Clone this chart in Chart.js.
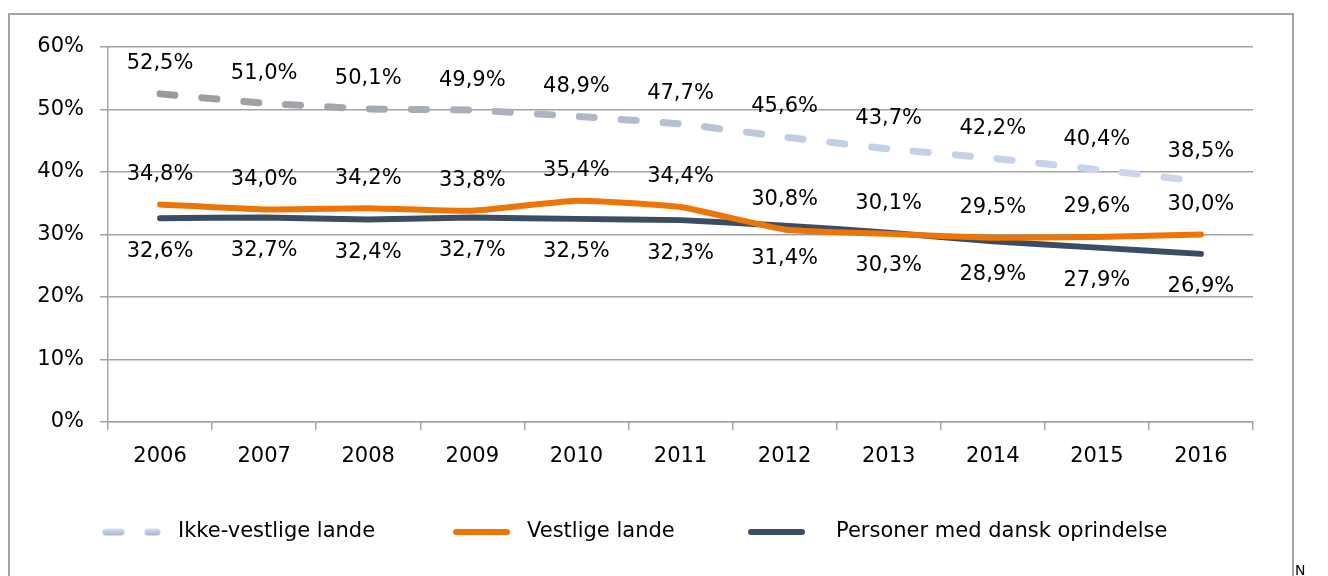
<!DOCTYPE html>
<html lang="da">
<head>
<meta charset="utf-8">
<title>Andel fordelt på herkomst 2006-2016</title>
<script src="https://cdn.jsdelivr.net/npm/chart.js@4/dist/chart.umd.min.js"></script>
<style>
    html, body { margin: 0; padding: 0; background: #fff; overflow: hidden; }
    #frame {
        position: absolute; left: 8px; top: 13px;
        width: 1282px; height: 620px;
        border: 2px solid #a3a3a3;
    }
    #wrap { position: absolute; left: 0; top: 0; width: 1328px; height: 576px; }
    #note {
        position: absolute; left: 1295px; top: 562px;
        font: 14px "DejaVu Sans", sans-serif; color: #000;
    }
</style>
</head>
<body>
<div id="frame"></div>
<div id="wrap"><canvas id="herkomstChart"></canvas></div>
<div id="note">N</div>

<script>
// data
const years = ['2006', '2007', '2008', '2009', '2010', '2011', '2012', '2013', '2014', '2015', '2016'];
const ikkeVestlige = [52.5, 51.0, 50.1, 49.9, 48.9, 47.7, 45.6, 43.7, 42.2, 40.4, 38.5];
const vestlige = [34.8, 34.0, 34.2, 33.8, 35.4, 34.4, 30.8, 30.1, 29.5, 29.6, 30.0];
const danskOprindelse = [32.6, 32.7, 32.4, 32.7, 32.5, 32.3, 31.4, 30.3, 28.9, 27.9, 26.9];
const seriesNames = ['Ikke-vestlige lande', 'Vestlige lande', 'Personer med dansk oprindelse'];
const yTicks = [0, 10, 20, 30, 40, 50, 60];

const FONT = '"DejaVu Sans", Verdana, sans-serif';
const GRID = '#a3a3a3';

function pct(v) {
    return v.toFixed(1).replace('.', ',') + '%';
}

// grå -> lyseblå overgang på den stiplede linje
function fadeColor(context) {
    const area = context.chart.chartArea;
    if (!area) return '#b4bdcc';
    const g = context.chart.ctx.createLinearGradient(area.left, 0, area.right, 0);
    g.addColorStop(0, '#979797');
    g.addColorStop(0.4, '#aeb6c4');
    g.addColorStop(0.62, '#c1cee6');
    g.addColorStop(1, '#cdd8ee');
    return g;
}

// værdietiketter over / under linjerne
const valueLabels = {
    id: 'valueLabels',
    afterDatasetsDraw(chart) {
        const ctx = chart.ctx;
        ctx.save();
        ctx.font = '21px ' + FONT;
        ctx.fillStyle = '#000';
        ctx.textAlign = 'center';
        ctx.textBaseline = 'middle';
        chart.data.datasets.forEach((ds, i) => {
            const meta = chart.getDatasetMeta(i);
            const shift = ds.labelBelow ? 33 : -30;
            meta.data.forEach((pt, j) => {
                ctx.fillText(pct(ds.data[j]), pt.x, pt.y + shift);
            });
        });
        ctx.restore();
    }
};

// forklaring nederst, tegnet med datasættenes egne streger
const lineLegend = {
    id: 'lineLegend',
    afterDraw(chart) {
        const ctx = chart.ctx;
        const y = 532;
        const starts = [103, 453, 748];
        const textX = [178, 527, 836];
        ctx.save();
        chart.data.datasets.forEach((ds, i) => {
            const x = starts[i];
            ctx.beginPath();
            ctx.lineWidth = ds.borderWidth;
            ctx.lineCap = 'round';
            if (ds.borderDash && ds.borderDash.length) {
                const g = ctx.createLinearGradient(0, y - 3, 0, y + 3);
                g.addColorStop(0, '#d3dcee');
                g.addColorStop(1, '#aab8d2');
                ctx.strokeStyle = g;
                ctx.setLineDash(ds.borderDash);
            } else {
                ctx.strokeStyle = ds.borderColor;
                ctx.setLineDash([]);
            }
            ctx.moveTo(x + 3, y);
            ctx.lineTo(x + 54, y);
            ctx.stroke();
            ctx.setLineDash([]);
            ctx.font = '21px ' + FONT;
            ctx.fillStyle = '#000';
            ctx.textAlign = 'left';
            ctx.textBaseline = 'middle';
            ctx.fillText(ds.label, textX[i], y);
        });
        ctx.restore();
    }
};

document.addEventListener('DOMContentLoaded', function() {
    const canvas = document.getElementById('herkomstChart');

    new Chart(canvas, {
        type: 'line',
        data: {
            labels: years,
            datasets: [{
                label: seriesNames[0],
                data: ikkeVestlige,
                borderColor: fadeColor,
                borderWidth: 7,
                borderDash: [15, 27],
                borderCapStyle: 'round',
                tension: 0.1,
                pointRadius: 0,
                labelBelow: false
            }, {
                label: seriesNames[1],
                data: vestlige,
                borderColor: '#ec7505',
                borderWidth: 6,
                borderCapStyle: 'round',
                tension: 0.15,
                pointRadius: 0,
                labelBelow: false
            }, {
                label: seriesNames[2],
                data: danskOprindelse,
                borderColor: '#3a4d62',
                borderWidth: 6,
                borderCapStyle: 'round',
                tension: 0.15,
                pointRadius: 0,
                labelBelow: true
            }]
        },
        options: {
            responsive: true,
            maintainAspectRatio: false,
            animation: false,
            layout: {
                padding: { top: 47, right: 75, bottom: 0, left: 0 }
            },
            plugins: {
                legend: { display: false },
                title: { display: false },
                tooltip: { enabled: false }
            },
            scales: {
                x: {
                    offset: true,
                    grid: {
                        offset: true,
                        drawOnChartArea: false,
                        drawTicks: true,
                        tickLength: 8,
                        color: GRID,
                        lineWidth: 1.5
                    },
                    border: { color: GRID, width: 1.5 },
                    ticks: {
                        color: '#000',
                        padding: 14,
                        maxRotation: 0,
                        font: { family: FONT, size: 21 }
                    },
                    afterFit: function(scale) { scale.height = 154; }
                },
                y: {
                    min: 0,
                    max: 60,
                    afterBuildTicks: function(scale) {
                        scale.ticks = yTicks.map(v => ({ value: v }));
                    },
                    grid: {
                        color: GRID,
                        lineWidth: 1.5,
                        tickLength: 8
                    },
                    border: { color: GRID, width: 1.5 },
                    ticks: {
                        color: '#000',
                        padding: 16,
                        font: { family: FONT, size: 21 },
                        callback: function(value) { return value + '%'; }
                    },
                    afterFit: function(scale) { scale.width = 108; }
                }
            }
        },
        plugins: [valueLabels, lineLegend]
    });
});
</script>
</body>
</html>
